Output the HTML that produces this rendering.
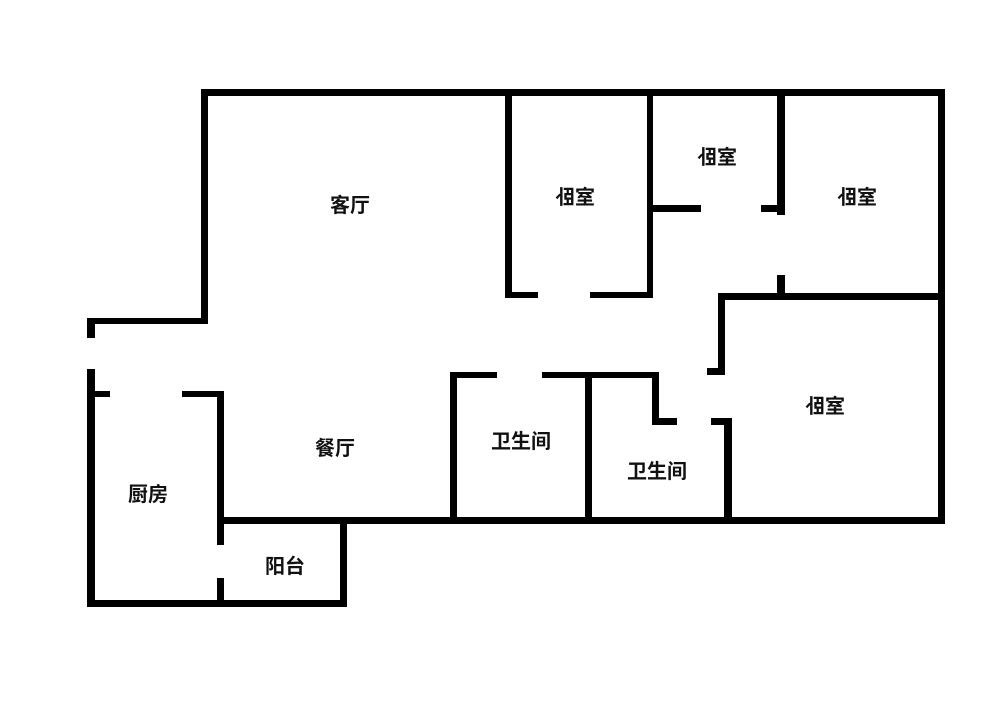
<!DOCTYPE html>
<html><head><meta charset="utf-8"><style>
html,body{margin:0;padding:0;background:#fff;}
svg{display:block}
text{font-family:"Liberation Sans","Noto Sans CJK SC",sans-serif;font-size:20px;font-weight:bold;fill:#111;}
</style></head><body>
<svg width="1000" height="722" viewBox="0 0 1000 722">
<g fill="#000">
<rect x="201" y="89" width="744" height="7"/>
<rect x="938" y="89" width="7" height="434"/>
<rect x="201" y="89" width="7" height="235"/>
<rect x="87" y="318" width="121" height="6"/>
<rect x="87" y="318" width="8" height="20"/>
<rect x="87" y="369" width="8" height="238"/>
<rect x="87" y="600" width="260" height="7"/>
<rect x="340" y="518" width="7" height="89"/>
<rect x="217" y="517" width="728" height="7"/>
<rect x="87" y="391" width="23" height="6"/>
<rect x="182" y="391" width="42" height="6"/>
<rect x="217" y="391" width="7" height="154"/>
<rect x="217" y="578" width="7" height="29"/>
<rect x="505" y="89" width="7" height="209"/>
<rect x="505" y="292" width="33" height="6"/>
<rect x="590" y="292" width="63" height="6"/>
<rect x="647" y="89" width="6" height="209"/>
<rect x="653" y="205" width="48" height="7"/>
<rect x="761" y="205" width="24" height="7"/>
<rect x="777" y="89" width="8" height="126"/>
<rect x="777" y="275" width="8" height="23"/>
<rect x="718" y="293" width="227" height="7"/>
<rect x="718" y="293" width="7" height="82"/>
<rect x="707" y="368" width="18" height="7"/>
<rect x="450" y="372" width="47" height="6"/>
<rect x="542" y="372" width="117" height="6"/>
<rect x="450" y="372" width="7" height="150"/>
<rect x="585" y="372" width="7" height="150"/>
<rect x="652" y="372" width="7" height="53"/>
<rect x="652" y="418" width="25" height="7"/>
<rect x="711" y="418" width="21" height="7"/>
<rect x="724" y="418" width="8" height="104"/>
</g>
<text x="350" y="212" text-anchor="middle">客厅</text>
<text x="335" y="455" text-anchor="middle">餐厅</text>
<text x="148" y="501" text-anchor="middle">厨房</text>
<text x="285" y="573" text-anchor="middle">阳台</text>
<text x="521" y="448" text-anchor="middle">卫生间</text>
<text x="657" y="478" text-anchor="middle">卫生间</text>
<g text-anchor="middle">
<text transform="translate(575,204) scale(-1,1)">室卧</text>
<text transform="translate(717,164) scale(-1,1)">室卧</text>
<text transform="translate(857,204) scale(-1,1)">室卧</text>
<text transform="translate(825,413) scale(-1,1)">室卧</text>
</g>
</svg>
</body></html>
